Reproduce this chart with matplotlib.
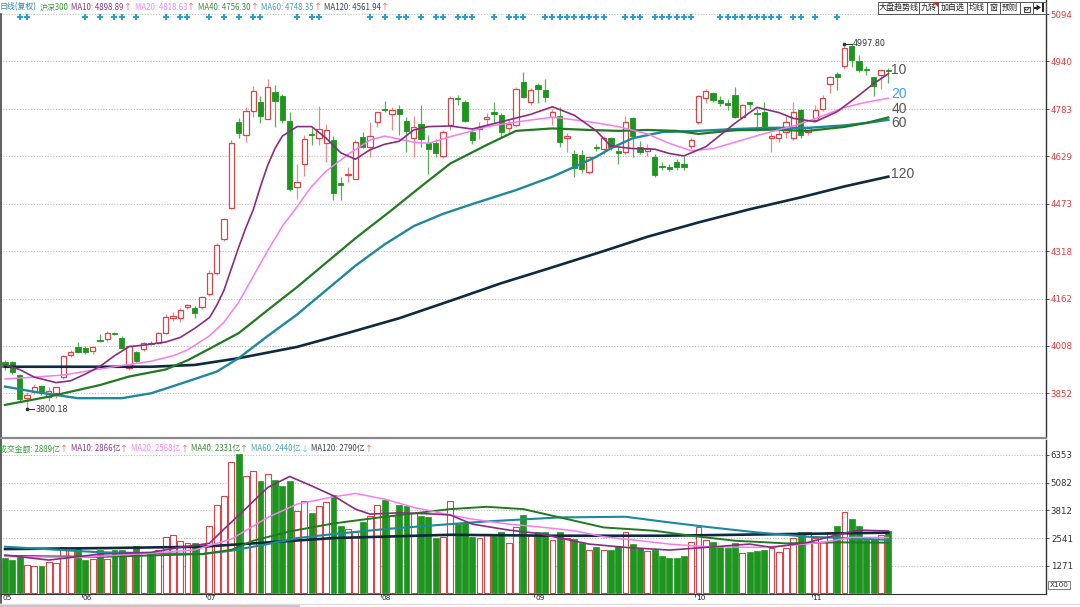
import numpy as np
import matplotlib.pyplot as plt
from matplotlib.patches import Rectangle, Polygon, Arc

plt.rcParams['font.family'] = ['Noto Sans CJK SC', 'DejaVu Sans']

W, H = 1080, 607

# ---- daily candles (沪深300, 日线复权) ----
opens = [3956, 3954, 3911, 3835, 3857, 3876, 3841, 3852, 3904, 3977,
         4005, 4001, 3992, 4028, 4030, 4050, 4034, 3934, 3986, 3996,
         4018, 4016, 4049, 4098, 4100, 4134, 4130, 4134, 4176, 4245,
         4357, 4460, 4742, 4697, 4777, 4806, 4752, 4838, 4826, 4745,
         4527, 4602, 4703, 4688, 4673, 4682, 4540, 4566, 4555, 4691,
         4658, 4741, 4785, 4766, 4783, 4745, 4687, 4735, 4671, 4671,
         4630, 4731, 4821, 4808, 4709, 4718, 4750, 4774, 4764, 4722,
         4731, 4873, 4808, 4862, 4846, 4758, 4762, 4688, 4636, 4633,
         4576, 4659, 4654, 4688, 4647, 4642, 4753, 4659, 4647, 4627,
         4596, 4595, 4610, 4605, 4661, 4740, 4819, 4835, 4814, 4803,
         4829, 4759, 4805, 4772, 4775, 4688, 4688, 4709, 4688, 4780,
         4709, 4747, 4783, 4865, 4900, 4923, 4990, 4942, 4916, 4887,
         4895, 4912]
highs = [3962, 3958, 3915, 3856, 3882, 3880, 3872, 3874, 3978, 3995,
         4020, 4006, 4006, 4045, 4055, 4052, 4040, 4010, 3990, 4020,
         4025, 4052, 4112, 4118, 4130, 4145, 4138, 4170, 4255, 4345,
         4425, 4682, 4755, 4790, 4858, 4826, 4882, 4862, 4833, 4775,
         4604, 4700, 4720, 4794, 4735, 4695, 4561, 4594, 4682, 4709,
         4742, 4774, 4810, 4791, 4796, 4758, 4760, 4796, 4700, 4685,
         4715, 4826, 4829, 4812, 4720, 4740, 4772, 4808, 4770, 4748,
         4855, 4906, 4851, 4868, 4881, 4785, 4791, 4704, 4649, 4649,
         4630, 4670, 4695, 4691, 4662, 4760, 4757, 4680, 4670, 4635,
         4610, 4605, 4620, 4630, 4688, 4830, 4848, 4840, 4825, 4815,
         4855, 4800, 4808, 4785, 4808, 4704, 4715, 4760, 4808, 4785,
         4725, 4797, 4829, 4892, 4904, 4997.80, 4996, 4960, 4925, 4887,
         4904, 4918]
lows = [3930, 3915, 3826, 3800.18, 3850, 3845, 3826, 3835, 3898, 3970,
        3983, 3982, 3980, 4020, 4025, 4044, 3996, 3928, 3955, 3992,
        4010, 4012, 4045, 4090, 4085, 4128, 4100, 4128, 4170, 4240,
        4350, 4455, 4690, 4675, 4757, 4739, 4752, 4726, 4738, 4515,
        4489, 4565, 4666, 4665, 4611, 4487, 4487, 4543, 4553, 4655,
        4627, 4726, 4774, 4715, 4698, 4643, 4627, 4660, 4570, 4625,
        4622, 4715, 4796, 4740, 4668, 4686, 4731, 4737, 4691, 4704,
        4726, 4819, 4797, 4802, 4805, 4731, 4660, 4644, 4562, 4575,
        4570, 4645, 4635, 4649, 4603, 4635, 4627, 4635, 4630, 4560,
        4585, 4582, 4585, 4585, 4651, 4735, 4802, 4808, 4795, 4780,
        4753, 4755, 4785, 4710, 4715, 4644, 4675, 4690, 4682, 4690,
        4700, 4747, 4777, 4837, 4847, 4915, 4920, 4905, 4895, 4827,
        4850, 4870]
closes = [3939, 3923, 3832, 3846, 3874, 3852, 3861, 3872, 3974, 3988,
          3986, 3986, 4003, 4025, 4051, 4047, 3999, 4007, 3958, 4016,
          4014, 4049, 4103, 4106, 4125, 4141, 4114, 4167, 4247, 4338,
          4422, 4673, 4704, 4777, 4842, 4762, 4855, 4810, 4748, 4520,
          4545, 4684, 4699, 4717, 4715, 4509, 4535, 4571, 4674, 4658,
          4696, 4774, 4781, 4780, 4767, 4711, 4726, 4685, 4652, 4638,
          4709, 4819, 4817, 4745, 4681, 4726, 4758, 4766, 4709, 4734,
          4848, 4822, 4846, 4848, 4823, 4774, 4674, 4696, 4589, 4586,
          4627, 4655, 4690, 4660, 4640, 4742, 4695, 4642, 4657, 4567,
          4594, 4588, 4592, 4592, 4683, 4826, 4843, 4813, 4803, 4798,
          4758, 4798, 4800, 4768, 4720, 4695, 4702, 4742, 4775, 4698,
          4720, 4780, 4819, 4887, 4889, 4983, 4945, 4910, 4912, 4858,
          4910, 4909]

# 成交金额 (亿)
amount = [1626, 1534, 1700, 1290, 1270, 1270, 1430, 1400, 2115, 2000,
          2050, 1550, 1565, 2000, 1600, 2000, 2000, 1860, 2180, 1890,
          1820, 2000, 2575, 2670, 2400, 2300, 2320, 2290, 3100, 4050,
          4480, 6010, 6390, 5370, 5620, 5170, 5460, 5190, 4920, 5170,
          3790, 4220, 3700, 4030, 4180, 4530, 3100, 2980, 2800, 3290,
          3570, 4070, 4280, 3570, 4070, 4000, 3700, 3560, 3500, 2540,
          2575, 4220, 3180, 3240, 2600, 2540, 2750, 2650, 2830, 2300,
          3050, 3610, 2700, 2840, 2800, 2450, 2840, 2540, 2500, 2320,
          2010, 2150, 1990, 2010, 2180, 2840, 2270, 2100, 1970, 2000,
          1700, 1650, 1650, 1700, 2340, 3050, 2450, 2340, 2180, 2100,
          2300, 1840, 1920, 1960, 2000, 2090, 1900, 2100, 2540, 2840,
          2840, 2540, 2340, 2840, 3100, 3760, 3400, 3100, 2450, 2480,
          2700, 2889]

month_labels = ['05', '06', '07', '08', '09', '10', '11']
month_start = [0, 11, 28, 52, 73, 95, 111]

signal_days = [2, 3, 11, 13, 15, 16, 18, 22, 24, 25, 28, 30, 32, 34, 35, 40, 42, 43,
               50, 52, 54, 55, 57, 59, 60, 62, 63, 64, 67, 69, 70, 71, 74, 75, 76,
               77, 78, 79, 80, 81, 82, 85, 86, 87, 89, 90, 91, 92, 93, 94, 98, 99,
               100, 101, 102, 103, 104, 105, 106, 108, 109, 111, 114]

# moving averages of price, read at sample days
ma10_x = [0, 2, 4, 7, 9, 11, 13, 15, 17, 19, 22, 24, 26, 28, 29, 30, 31, 32, 33, 34,
          35, 36, 37, 38, 40, 42, 44, 46, 48, 50, 52, 54, 56, 58, 61, 64, 68, 72, 75,
          78, 81, 83, 86, 89, 91, 93, 96, 100, 103, 106, 108, 111, 114, 117, 119, 121]
ma10_y = [3945, 3930, 3905, 3887, 3893, 3915, 3940, 3975, 4005, 4010, 4020, 4035,
          4065, 4100, 4140, 4190, 4260, 4330, 4395, 4453, 4530, 4600, 4655, 4695,
          4726, 4726, 4688, 4640, 4619, 4650, 4668, 4678, 4715, 4726, 4728, 4718,
          4742, 4766, 4791, 4763, 4712, 4662, 4654, 4652, 4638, 4630, 4660, 4737,
          4789, 4772, 4753, 4742, 4775, 4829, 4867, 4899]
ma20_x = [0, 4, 8, 12, 16, 20, 23, 25, 27, 28, 30, 32, 34, 36, 38, 40, 42, 44, 47,
          50, 52, 54, 56, 58, 61, 64, 66, 70, 75, 80, 84, 88, 91, 94, 97, 101, 104,
          108, 111, 115, 118, 121]
ma20_y = [3899, 3905, 3912, 3928, 3943, 3957, 3975, 3994, 4025, 4040, 4085, 4150,
          4235, 4320, 4400, 4463, 4530, 4580, 4635, 4682, 4695, 4685, 4675, 4671,
          4693, 4712, 4726, 4741, 4757, 4742, 4726, 4702, 4671, 4647, 4654, 4682,
          4703, 4728, 4752, 4789, 4806, 4819]
ma40_x = [0, 6, 13, 17, 22, 25, 28, 32, 36, 40, 44, 48, 53, 57, 61, 66, 70, 75, 80,
          84, 88, 92, 95, 100, 105, 110, 115, 118, 121]
ma40_y = [3814, 3841, 3879, 3907, 3930, 3960, 3998, 4049, 4125, 4200, 4280, 4360,
          4453, 4530, 4605, 4666, 4712, 4720, 4715, 4712, 4715, 4712, 4702, 4714,
          4716, 4712, 4725, 4738, 4756]
ma60_x = [0, 4, 10, 16, 20, 24, 29, 32, 36, 40, 44, 48, 52, 56, 60, 64, 67, 70, 75,
          78, 81, 83, 86, 90, 95, 100, 105, 110, 115, 118, 121]
ma60_y = [3874, 3857, 3836, 3836, 3852, 3883, 3923, 3967, 4040, 4110, 4190, 4270,
          4340, 4400, 4440, 4472, 4495, 4518, 4562, 4594, 4627, 4655, 4688, 4708,
          4712, 4718, 4722, 4722, 4730, 4738, 4748]
ma120_x = [0, 20, 26, 32, 40, 47, 54, 61, 68, 75, 82, 88, 95, 102, 109, 115, 121]
ma120_y = [3939, 3939, 3945, 3967, 4004, 4050, 4098, 4155, 4213, 4265, 4318, 4365,
           4412, 4455, 4494, 4530, 4562]

# moving averages of 成交金额
vma10_x = [0, 6, 13, 20, 24, 28, 30, 33, 36, 39, 42, 45, 48, 50, 54, 59, 61, 64, 69,
           73, 80, 85, 91, 96, 102, 105, 110, 114, 117, 121]
vma10_y = [1763, 1534, 1809, 1886, 2115, 2300, 2954, 3900, 4864, 5368, 4937, 4479,
           3870, 3641, 3700, 3641, 3600, 3183, 2908, 2757, 2267, 2115, 1992, 2115,
           2267, 2115, 2345, 2693, 2908, 2866]
vma20_x = [0, 10, 20, 26, 28, 31, 36, 40, 45, 48, 52, 56, 61, 64, 69, 73, 78, 82, 87,
           91, 96, 103, 107, 112, 116, 121]
vma20_y = [1700, 1650, 1850, 2000, 2200, 2496, 3490, 4100, 4434, 4588, 4328, 3948,
           3600, 3412, 3183, 3060, 2877, 2603, 2420, 2267, 2145, 2115, 2191, 2345,
           2573, 2568]
vma40_x = [0, 13, 27, 31, 34, 39, 45, 52, 61, 66, 71, 76, 82, 89, 94, 100, 107, 114, 121]
vma40_y = [1730, 1680, 1809, 2000, 2420, 2848, 3213, 3519, 3870, 3977, 3870, 3490,
           3030, 2877, 2648, 2420, 2300, 2345, 2331]
vma60_x = [0, 13, 27, 31, 36, 40, 45, 52, 61, 66, 76, 85, 91, 96, 103, 110, 121]
vma60_y = [2145, 1890, 1809, 1962, 2267, 2542, 2725, 2954, 3183, 3306, 3490, 3519,
           3260, 3060, 2801, 2603, 2460]
vma120_x = [0, 14, 27, 36, 45, 61, 75, 90, 100, 121]
vma120_y = [2038, 2084, 2145, 2343, 2542, 2693, 2650, 2650, 2693, 2790]

price_ticks = [5094, 4940, 4783, 4629, 4473, 4318, 4162, 4008, 3852]
vol_ticks = [6353, 5082, 3812, 2541, 1271]

# ---- styles ----
RED = '#DC4449'
RED_W = '#E8898C'
GREEN = '#1E951E'
GREEN_W = '#56B056'
C10, C20, C40, C60, C120 = '#8A2C80', '#F77CF2', '#217A21', '#1D8A9B', '#0D2A3E'
GRID = '#BEBEBE'

o, h, l, c = map(np.array, (opens, highs, lows, closes))
v = np.array(amount)
idx = np.arange(len(c))
up = c >= o

fig = plt.figure(figsize=(W / 100, H / 100), dpi=100)
fig.patch.set_facecolor('white')

px_w = 1046
ax = fig.add_axes([0, (H - 437) / H, px_w / W, 437 / H])
axv = fig.add_axes([0, (H - 594) / H, px_w / W, 154 / H], sharex=ax)

ax.set_xlim(-5 / 7.3, (px_w - 5) / 7.3)
ax.set_ylim(5094 - 422.7 * 3.277, 5094 + 14.3 * 3.277)
axv.set_ylim(-23, 7040)

# candles
ax.vlines(idx[up], l[up], h[up], color=RED_W, lw=0.9, zorder=3)
ax.vlines(idx[~up], l[~up], h[~up], color=GREEN_W, lw=0.9, zorder=3)
body_lo = np.minimum(o, c)
body_h = np.maximum(np.abs(c - o), 2.5)
ax.bar(idx[up], body_h[up], bottom=body_lo[up], width=0.72, facecolor='white',
       edgecolor=RED, lw=0.9, zorder=4)
ax.bar(idx[~up], body_h[~up], bottom=body_lo[~up], width=0.72, facecolor=GREEN,
       edgecolor=GREEN, lw=0.6, zorder=4)

# price MAs
ax.plot(ma120_x, ma120_y, color=C120, lw=1.9, zorder=5)
ax.plot(ma60_x, ma60_y, color=C60, lw=1.7, zorder=5)
ax.plot(ma40_x, ma40_y, color=C40, lw=1.6, zorder=5)
ax.plot(ma20_x, ma20_y, color=C20, lw=1.1, zorder=5)
ax.plot(ma10_x, ma10_y, color=C10, lw=1.2, zorder=6)

# MA end labels
last = len(c) - 1
end_lbl = [('10', ma10_y[-1], '#555555', 4), ('20', ma20_y[-1], '#3AA2F2', 4),
           ('40', ma40_y[-1], '#555555', 8), ('60', ma60_y[-1], '#555555', -3),
           ('120', ma120_y[-1], '#555555', 3)]
for s, yv, col, dy in end_lbl:
    ax.annotate(s, (last, yv), xytext=(3, dy), textcoords='offset pixels',
                fontsize=10, color=col, va='center', ha='left', zorder=7,
                family=['Liberation Sans'])

# high / low marks
i_lo = int(np.argmin(l))
i_hi = int(np.argmax(h))
for ii, val in ((i_lo, l[i_lo]), (i_hi, h[i_hi])):
    ax.plot([ii, ii + 1.0], [val, val], color='#333333', lw=0.8, zorder=7)
    ax.plot([ii], [val], marker='s', ms=1.8, color='#333333', zorder=7)
    ax.text(ii + 1.1, val, f'{val:.2f}', fontsize=5.8, color='#333333',
            va='center', ha='left', zorder=7, family=['DejaVu Sans'])

# signal dots
ax.scatter(signal_days, np.full(len(signal_days), 5094 - 2.3 * 3.277), marker='P',
           s=16, color='#2D9FD2', lw=0, zorder=7)

# volume bars
axv.bar(idx[up], v[up], width=0.8, facecolor='white', edgecolor=RED, lw=0.8, zorder=3)
axv.bar(idx[~up], v[~up], width=0.8, facecolor=GREEN, edgecolor=GREEN, lw=0.5, zorder=3)
axv.plot(vma120_x, vma120_y, color=C120, lw=1.9, zorder=5)
axv.plot(vma60_x, vma60_y, color=C60, lw=1.5, zorder=5)
axv.plot(vma40_x, vma40_y, color=C40, lw=1.4, zorder=5)
axv.plot(vma20_x, vma20_y, color=C20, lw=1.1, zorder=5)
axv.plot(vma10_x, vma10_y, color=C10, lw=1.2, zorder=6)

# axes styling
for a, ticks, tcol in ((ax, price_ticks, '#E03A3A'), (axv, vol_ticks, '#333333')):
    a.set_yticks(ticks)
    a.set_yticklabels([str(t) for t in ticks], family=['DejaVu Sans'])
    a.yaxis.tick_right()
    a.tick_params(axis='y', length=2, width=0.6, pad=1.5, labelsize=6.2,
                  labelcolor=tcol, color='#333333')
    a.grid(axis='y', color=GRID, lw=0.8, ls=(0, (1, 1.5)))
    a.set_axisbelow(True)
    for sp in a.spines.values():
        sp.set_visible(False)
    a.spines['right'].set_visible(True)
    a.spines['right'].set_color('#333333')
    a.spines['right'].set_linewidth(1.0)
    a.set_facecolor('none')

ax.tick_params(axis='x', bottom=False, labelbottom=False)
axv.spines['bottom'].set_visible(True)
axv.spines['bottom'].set_color('#333333')
axv.set_xticks([m - 0.5 for m in month_start])
axv.tick_params(axis='x', length=2.5, width=0.6, color='#333333', labelbottom=False)
for m, lbl in zip(month_start, month_labels):
    axv.annotate(lbl, (m - 0.5, 0), xycoords=('data', 'axes fraction'),
                 xytext=(1, -1.5), textcoords='offset pixels', ha='left', va='top',
                 fontsize=5.3, color='#222222', family=['DejaVu Sans'])

# overlay for header, toolbar, frame
ov = fig.add_axes([0, 0, 1, 1], zorder=10)
ov.set_xlim(0, W)
ov.set_ylim(H, 0)
ov.axis('off')

ov.plot([1, 1], [14, 603], color='#444444', lw=1.2)
ov.plot([0, px_w], [437.5, 437.5], color='#8A8A8A', lw=1.6)
ov.plot([0, W], [603.5, 603.5], color='#DDDDDD', lw=1.0)
ov.add_patch(Rectangle((0, 604), 300, 3, color='#C4C4C4', lw=0))

r = fig.canvas.get_renderer()


def header(y, x, items, size=5.7):
    for s, col, arrow, acol in items:
        t = ov.text(x, y, s, color=col, fontsize=size, va='center', ha='left')
        x += t.get_window_extent(renderer=r).width + 0.3
        if arrow:
            a = ov.text(x, y, arrow, color=acol, fontsize=size, va='center', ha='left')
            x += a.get_window_extent(renderer=r).width
        x += 2.5


header(7, 0, [
    ('日线(复权)', '#2A86AE', '', ''),
    ('沪深300', '#3B9E3B', '', ''),
    ('MA10: 4898.89', '#8E3A8A', '↑', '#E84848'),
    ('MA20: 4818.63', '#FF84FF', '↑', '#E84848'),
    ('MA40: 4756.30', '#3D8E3D', '↑', '#E84848'),
    ('MA60: 4748.35', '#4AA3B5', '↑', '#E84848'),
    ('MA120: 4561.94', '#3C4656', '↑', '#E84848'),
])
header(449, -1, [
    ('成交金额: 2889亿', '#3B9E3B', '↑', '#E84848'),
    ('MA10: 2866亿', '#8E3A8A', '↑', '#E84848'),
    ('MA20: 2568亿', '#FF84FF', '↑', '#E84848'),
    ('MA40: 2331亿', '#3D8E3D', '↑', '#E84848'),
    ('MA60: 2440亿', '#4AA3B5', '↓', '#4AC0D8'),
    ('MA120: 2790亿', '#3C4656', '↑', '#E84848'),
])

# toolbar
tools = [('大盘趋势线', 878, 919), ('九转', 919, 938), ('加自选', 938, 967),
         ('均线', 967, 987), ('窗', 987, 1000), ('预测', 1000, 1020),
         ('', 1020, 1033), ('', 1033, 1046)]
for s, x0, x1 in tools:
    ov.add_patch(Rectangle((x0, 1.5), x1 - x0, 12, fill=False, ec='#555555', lw=0.7))
    if s:
        ov.text((x0 + x1) / 2, 7.6, s, ha='center', va='center', fontsize=5.8,
                color='#222222')
ov.add_patch(Polygon([(933, 1.5), (938, 1.5), (938, 6.5)], closed=True, color='#E02020', lw=0))
ov.add_patch(Rectangle((1023.5, 7), 6, 4.8, fill=False, ec='#444444', lw=0.8))
ov.add_patch(Arc((1026.5, 7), 4.4, 6, theta1=0, theta2=180, ec='#444444', lw=0.8))
ov.add_patch(Polygon([(1036.5, 4.5), (1041, 7.5), (1036.5, 10.5)], closed=True,
                     color='#222222', lw=0))
ov.plot([1034.5, 1037], [7.5, 7.5], color='#222222', lw=1.4)
ov.plot([1042.8, 1042.8], [4, 11], color='#222222', lw=1.4)

# X100 box
ov.text(1059, 585, 'X100', fontsize=5.2, ha='center', va='center', color='#333333',
        family=['DejaVu Sans'],
        bbox=dict(boxstyle='square,pad=0.15', fc='white', ec='#666666', lw=0.6))

fig.savefig('out.png', dpi=100, facecolor='white')
